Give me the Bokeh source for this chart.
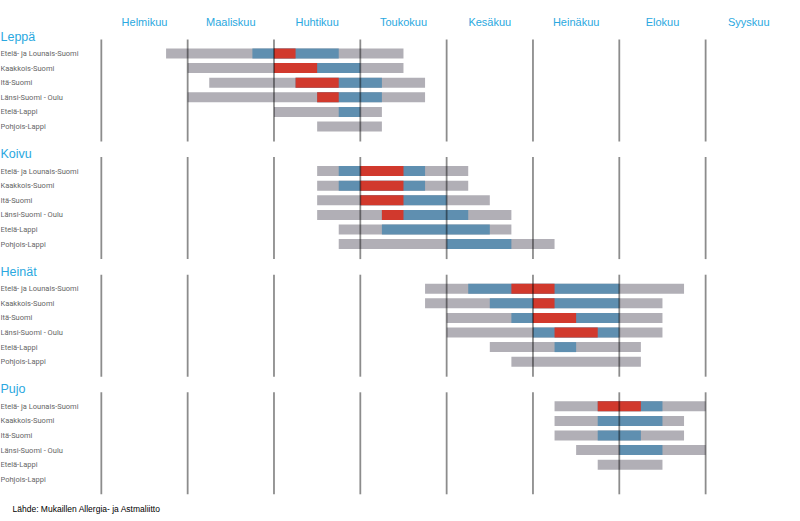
from bokeh.plotting import figure
from bokeh.models import Range1d, Label
from bokeh.core.properties import value
from bokeh.embed import file_html
from bokeh.resources import INLINE

# ---- data (x in months since 1 February; quarter-month resolution) ----
months = ["Helmikuu", "Maaliskuu", "Huhtikuu", "Toukokuu",
          "Kesäkuu", "Heinäkuu", "Elokuu", "Syyskuu"]
regions = ["Etelä- ja Lounais-Suomi", "Kaakkois-Suomi", "Itä-Suomi",
           "Länsi-Suomi - Oulu", "Etelä-Lappi", "Pohjois-Lappi"]
groups = ["Leppä", "Koivu", "Heinät", "Pujo"]

# (start, end) per region; None = no period
leppa_low = [(0.75, 3.5), (1.0, 3.5), (1.25, 3.75), (1.0, 3.75), (2.0, 3.25), (2.5, 3.25)]
leppa_mid = [(1.75, 2.75), (2.0, 3.0), (2.25, 3.25), (2.5, 3.25), (2.75, 3.0), None]
leppa_high = [(2.0, 2.25), (2.0, 2.5), (2.25, 2.75), (2.5, 2.75), None, None]

koivu_low = [(2.5, 4.25), (2.5, 4.25), (2.5, 4.5), (2.5, 4.75), (2.75, 4.75), (2.75, 5.25)]
koivu_mid = [(2.75, 3.75), (2.75, 3.75), (3.0, 4.0), (3.25, 4.25), (3.25, 4.5), (4.0, 4.75)]
koivu_high = [(3.0, 3.5), (3.0, 3.5), (3.0, 3.5), (3.25, 3.5), None, None]

heinat_low = [(3.75, 6.75), (3.75, 6.5), (4.0, 6.5), (4.0, 6.5), (4.5, 6.25), (4.75, 6.25)]
heinat_mid = [(4.25, 6.0), (4.5, 6.0), (4.75, 6.0), (5.0, 6.0), (5.25, 5.5), None]
heinat_high = [(4.75, 5.25), (5.0, 5.25), (5.0, 5.5), (5.25, 5.75), None, None]

pujo_low = [(5.25, 7.0), (5.25, 6.75), (5.25, 6.75), (5.5, 7.0), (5.75, 6.5), None]
pujo_mid = [(5.75, 6.5), (5.75, 6.5), (5.75, 6.25), (6.0, 6.5), None, None]
pujo_high = [(5.75, 6.25), None, None, None, None, None]

group_levels = [
    (leppa_low, leppa_mid, leppa_high),
    (koivu_low, koivu_mid, koivu_high),
    (heinat_low, heinat_mid, heinat_high),
    (pujo_low, pujo_mid, pujo_high),
]

# ---- layout / style ----
W, H = 800, 521
ROW0, GROUP_STEP, ROW_STEP = 53.0, 117.6, 14.6
BAR_H = 10
LEVEL_COLORS = ["#b1afb6", "#5f8fb0", "#d1392d"]
BLUE_TEXT = "#2aa8e0"
X_START, X_END = -1.168, 8.099

p = figure(width=W, height=H, x_range=Range1d(X_START, X_END), y_range=Range1d(H, 0),
           output_backend="svg", toolbar_location=None, min_border=0)
p.axis.visible = False
p.grid.visible = False
p.outline_line_color = None
p.background_fill_color = "white"

# bars
for level in range(3):
    ys, lefts, rights = [], [], []
    for g, levels in enumerate(group_levels):
        for r, span in enumerate(levels[level]):
            if span is None:
                continue
            ys.append(ROW0 + g * GROUP_STEP + r * ROW_STEP)
            lefts.append(span[0])
            rights.append(span[1])
    p.hbar(y=ys, left=lefts, right=rights, height=BAR_H,
           fill_color=LEVEL_COLORS[level], line_color=None)

# vertical month boundaries per group
bounds = list(range(len(months)))
x0s, y0s, y1s = [], [], []
for g in range(len(groups)):
    top = ROW0 + g * GROUP_STEP - 14
    bot = ROW0 + g * GROUP_STEP + (len(regions) - 1) * ROW_STEP + 15
    for b in bounds:
        x0s.append(b)
        y0s.append(top)
        y1s.append(bot)
p.segment(x0=x0s, x1=x0s, y0=y0s, y1=y1s, line_color="black", line_alpha=0.45, line_width=1.8)

# month labels
p.text(x=[i + 0.5 for i in range(len(months))], y=[21.7] * len(months), text=months,
       text_align="center", text_baseline="middle", text_color=BLUE_TEXT,
       text_font=value("Liberation Sans"), text_font_size="11px")

# group titles and region labels
gx, gy = [], []
rx, ry, rt = [], [], []
for g, name in enumerate(groups):
    gx.append(X_START)
    gy.append(ROW0 + g * GROUP_STEP - 17)
    for r, reg in enumerate(regions):
        rx.append(X_START)
        ry.append(ROW0 + g * GROUP_STEP + r * ROW_STEP)
        rt.append(reg)
p.text(x=gx, y=gy, text=groups, text_align="left", text_baseline="middle",
       text_color=BLUE_TEXT, text_font=value("Liberation Sans"), text_font_size="12.5px")
p.text(x=rx, y=ry, text=rt, text_align="left", text_baseline="middle",
       text_color="#666666", text_font=value("Roboto"), text_font_size="7.5px")

p.add_layout(Label(x=12, y=508, x_units="screen", y_units="data",
                   text="Lähde: Mukaillen Allergia- ja Astmaliitto",
                   text_font="Liberation Sans", text_font_size="8.5px",
                   text_color="black", text_baseline="middle"))

open("out.html", "w").write(file_html(p, INLINE))
